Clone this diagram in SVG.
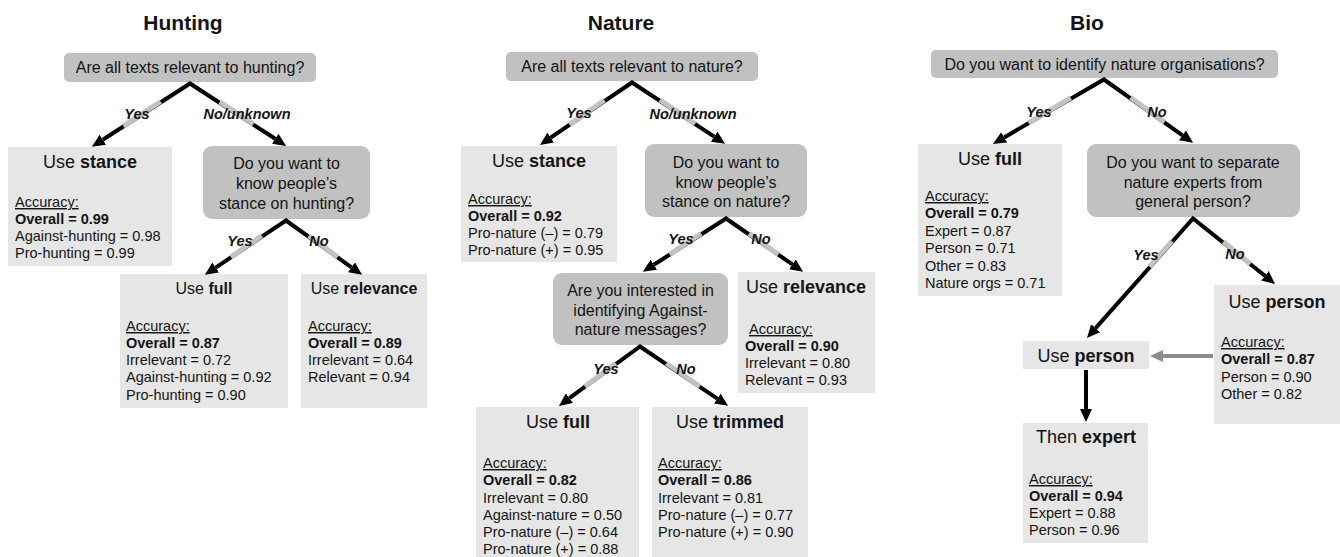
<svg xmlns="http://www.w3.org/2000/svg" width="1340" height="557" viewBox="0 0 1340 557">
<style>
text{font-family:"Liberation Sans",Arial,sans-serif;fill:#141414}
.title{font-size:21px;font-weight:bold;text-anchor:middle}
.q{fill:#c1c1c1}
.leaf{fill:#e6e6e6}
.qt{font-size:16px;text-anchor:middle}
.lt{font-size:18px;text-anchor:middle}
.lts{font-size:16px;text-anchor:middle}
.acc{font-size:14.5px}
.u{text-decoration:underline}
.b{font-weight:bold}
.lab{font-size:14.5px;font-weight:bold;font-style:italic;text-anchor:middle}
.arr{fill:none;stroke:#000;stroke-width:4;stroke-linejoin:miter;stroke-miterlimit:10;marker-start:url(#ahs);marker-end:url(#ah)}
.one{fill:none;stroke:#000;stroke-width:4;marker-end:url(#ah)}
.gs line{stroke:#c2c2c2;stroke-width:5;stroke-linecap:butt}
</style>
<defs>
<marker id="ah" viewBox="0 0 13 12" refX="0" refY="6" markerWidth="13" markerHeight="12" markerUnits="userSpaceOnUse" orient="auto"><path d="M0,0 L13,6 L0,12 z" fill="#000"/></marker>
<marker id="ahs" viewBox="0 0 13 12" refX="0" refY="6" markerWidth="13" markerHeight="12" markerUnits="userSpaceOnUse" orient="auto-start-reverse"><path d="M0,0 L13,6 L0,12 z" fill="#000"/></marker>
<marker id="ahg" viewBox="0 0 13 12" refX="0" refY="6" markerWidth="13" markerHeight="12" markerUnits="userSpaceOnUse" orient="auto"><path d="M0,0 L13,6 L0,12 z" fill="#8c8c8c"/></marker>
</defs>

<text class="title" x="183" y="30">Hunting</text>
<text class="title" x="621" y="30">Nature</text>
<text class="title" x="1087" y="30">Bio</text>

<!-- Hunting -->
<g id="h-q1"><rect class="q" x="64" y="53" width="252" height="29" rx="5"/><text class="qt" x="190" y="73">Are all texts relevant to hunting?</text></g>
<g id="h-stance"><rect class="leaf" x="8" y="147" width="164" height="119"/><text class="lt" x="90" y="168">Use <tspan class="b">stance</tspan></text>
<text class="acc" x="15" y="207"><tspan class="u">Accuracy:</tspan></text>
<text class="acc b" x="15" y="224">Overall = 0.99</text>
<text class="acc" x="15" y="241">Against-hunting = 0.98</text>
<text class="acc" x="15" y="258">Pro-hunting = 0.99</text></g>
<g id="h-q2"><rect class="q" x="203" y="146" width="167" height="73" rx="9"/>
<text class="qt" x="286.5" y="169">Do you want to</text><text class="qt" x="286.5" y="189">know people’s</text><text class="qt" x="286.5" y="209">stance on hunting?</text></g>
<g id="h-full"><rect class="leaf" x="120" y="274" width="168" height="134"/><text class="lts" x="204" y="294">Use <tspan class="b">full</tspan></text>
<text class="acc" x="126" y="331"><tspan class="u">Accuracy:</tspan></text>
<text class="acc b" x="126" y="348">Overall = 0.87</text>
<text class="acc" x="126" y="365">Irrelevant = 0.72</text>
<text class="acc" x="126" y="382">Against-hunting = 0.92</text>
<text class="acc" x="126" y="400">Pro-hunting = 0.90</text></g>
<g id="h-rel"><rect class="leaf" x="301" y="274" width="126" height="134"/><text class="lts" x="364" y="294">Use <tspan class="b">relevance</tspan></text>
<text class="acc" x="308" y="331"><tspan class="u">Accuracy:</tspan></text>
<text class="acc b" x="308" y="348">Overall = 0.89</text>
<text class="acc" x="308" y="365">Irrelevant = 0.64</text>
<text class="acc" x="308" y="382">Relevant = 0.94</text></g>

<!-- Nature -->
<g id="n-q1"><rect class="q" x="506" y="52" width="252" height="29" rx="5"/><text class="qt" x="632" y="72">Are all texts relevant to nature?</text></g>
<g id="n-stance"><rect class="leaf" x="461" y="146" width="156" height="116"/><text class="lt" x="539" y="167">Use <tspan class="b">stance</tspan></text>
<text class="acc" x="468" y="204"><tspan class="u">Accuracy:</tspan></text>
<text class="acc b" x="468" y="221">Overall = 0.92</text>
<text class="acc" x="468" y="238">Pro-nature (–) = 0.79</text>
<text class="acc" x="468" y="255">Pro-nature (+) = 0.95</text></g>
<g id="n-q2"><rect class="q" x="645" y="144" width="162" height="73" rx="9"/>
<text class="qt" x="726" y="168">Do you want to</text><text class="qt" x="726" y="188">know people’s</text><text class="qt" x="726" y="207">stance on nature?</text></g>
<g id="n-q3"><rect class="q" x="553" y="273" width="175" height="72" rx="9"/>
<text class="qt" x="640.5" y="296">Are you interested in</text><text class="qt" x="640.5" y="316">identifying Against-</text><text class="qt" x="640.5" y="335">nature messages?</text></g>
<g id="n-rel"><rect class="leaf" x="738" y="272" width="137" height="121"/><text class="lt" x="806" y="293">Use <tspan class="b">relevance</tspan></text>
<text class="acc" x="749" y="334"><tspan class="u">Accuracy:</tspan></text>
<text class="acc b" x="745" y="351">Overall = 0.90</text>
<text class="acc" x="745" y="368">Irrelevant = 0.80</text>
<text class="acc" x="745" y="385">Relevant = 0.93</text></g>
<g id="n-full"><rect class="leaf" x="476" y="407" width="163" height="150"/><text class="lt" x="558" y="428">Use <tspan class="b">full</tspan></text>
<text class="acc" x="483" y="468"><tspan class="u">Accuracy:</tspan></text>
<text class="acc b" x="483" y="485">Overall = 0.82</text>
<text class="acc" x="483" y="503">Irrelevant = 0.80</text>
<text class="acc" x="483" y="520">Against-nature = 0.50</text>
<text class="acc" x="483" y="537">Pro-nature (–) = 0.64</text>
<text class="acc" x="483" y="554">Pro-nature (+) = 0.88</text></g>
<g id="n-trim"><rect class="leaf" x="652" y="407" width="156" height="150"/><text class="lt" x="730" y="428">Use <tspan class="b">trimmed</tspan></text>
<text class="acc" x="658" y="468"><tspan class="u">Accuracy:</tspan></text>
<text class="acc b" x="658" y="485">Overall = 0.86</text>
<text class="acc" x="658" y="503">Irrelevant = 0.81</text>
<text class="acc" x="658" y="520">Pro-nature (–) = 0.77</text>
<text class="acc" x="658" y="537">Pro-nature (+) = 0.90</text></g>

<!-- Bio -->
<g id="b-q1"><rect class="q" x="931" y="50" width="347" height="28" rx="5"/><text class="qt" x="1104.5" y="70">Do you want to identify nature organisations?</text></g>
<g id="b-full"><rect class="leaf" x="918" y="144" width="144" height="152"/><text class="lt" x="990" y="165">Use <tspan class="b">full</tspan></text>
<text class="acc" x="925" y="201"><tspan class="u">Accuracy:</tspan></text>
<text class="acc b" x="925" y="218">Overall = 0.79</text>
<text class="acc" x="925" y="236">Expert = 0.87</text>
<text class="acc" x="925" y="253">Person = 0.71</text>
<text class="acc" x="925" y="271">Other = 0.83</text>
<text class="acc" x="925" y="288">Nature orgs = 0.71</text></g>
<g id="b-q2"><rect class="q" x="1087" y="144" width="213" height="73" rx="9"/>
<text class="qt" x="1193" y="168">Do you want to separate</text><text class="qt" x="1193" y="188">nature experts from</text><text class="qt" x="1193" y="207">general person?</text></g>
<g id="b-person2"><rect class="leaf" x="1214" y="285" width="130" height="139"/><text class="lt" x="1277" y="308">Use <tspan class="b">person</tspan></text>
<text class="acc" x="1221" y="347"><tspan class="u">Accuracy:</tspan></text>
<text class="acc b" x="1221" y="364">Overall = 0.87</text>
<text class="acc" x="1221" y="382">Person = 0.90</text>
<text class="acc" x="1221" y="399">Other = 0.82</text></g>
<g id="b-person1"><rect class="leaf" x="1023" y="341" width="126" height="28"/><text class="lt" x="1086" y="362">Use <tspan class="b">person</tspan></text></g>
<g id="b-expert"><rect class="leaf" x="1023" y="423" width="125" height="120"/><text class="lt" x="1086" y="443">Then <tspan class="b">expert</tspan></text>
<text class="acc" x="1029" y="484"><tspan class="u">Accuracy:</tspan></text>
<text class="acc b" x="1029" y="501">Overall = 0.94</text>
<text class="acc" x="1029" y="518">Expert = 0.88</text>
<text class="acc" x="1029" y="535">Person = 0.96</text></g>

<!-- Connectors -->
<g id="connectors">
<path class="arr" d="M102.8,139.8 L190,83.5 L275.2,138.8"/>
<path class="arr" d="M215.7,267.6 L286,220.5 L351.5,267.3"/>
<path class="arr" d="M550.7,137.6 L632,82.5 L714.2,136.7"/>
<path class="arr" d="M653.8,264.8 L726,218.5 L792.4,264.4"/>
<path class="arr" d="M569.4,398.2 L640,346.5 L717.3,398.6"/>
<path class="arr" d="M1004.2,137.4 L1104,79.5 L1182.5,135.3"/>
<path class="arr" d="M1095.6,328.2 L1193,218.5 L1264.9,275.8"/>
<path class="one" d="M1086,370 L1086,409"/>
<path d="M1213,356 L1163,356" fill="none" stroke="#8c8c8c" stroke-width="4" marker-end="url(#ahg)"/>
<g class="gs">
<line x1="160.6" y1="101.5" x2="123.4" y2="126.2"/>
<line x1="219.8" y1="101.8" x2="253.4" y2="124.2"/>
<line x1="261.7" y1="235.8" x2="230.9" y2="257.1"/>
<line x1="308.8" y1="235.8" x2="337.7" y2="257.1"/>
<line x1="604.4" y1="100.2" x2="569.4" y2="124.5"/>
<line x1="659.9" y1="99.9" x2="695.2" y2="123.8"/>
<line x1="701.1" y1="233.5" x2="669.6" y2="254.4"/>
<line x1="749.1" y1="233.5" x2="778.4" y2="254.4"/>
<line x1="615.7" y1="363.3" x2="584.9" y2="386.5"/>
<line x1="666.4" y1="363.3" x2="699.8" y2="386.5"/>
<line x1="1070.7" y1="97.8" x2="1028.5" y2="122.9"/>
<line x1="1130.7" y1="97.5" x2="1164.5" y2="122.2"/>
<line x1="1171.8" y1="241.2" x2="1149.5" y2="266.6"/>
<line x1="1223.3" y1="241.8" x2="1250.4" y2="263.9"/>
</g>
<text class="lab" x="137" y="119">Yes</text>
<text class="lab" x="247" y="119">No/unknown</text>
<text class="lab" x="240" y="246">Yes</text>
<text class="lab" x="319" y="246">No</text>
<text class="lab" x="579" y="118">Yes</text>
<text class="lab" x="693" y="119">No/unknown</text>
<text class="lab" x="681" y="244">Yes</text>
<text class="lab" x="761" y="244">No</text>
<text class="lab" x="606" y="374">Yes</text>
<text class="lab" x="686" y="374">No</text>
<text class="lab" x="1039" y="117">Yes</text>
<text class="lab" x="1157" y="117">No</text>
<text class="lab" x="1146" y="260">Yes</text>
<text class="lab" x="1235" y="259">No</text>
</g>
</svg>
